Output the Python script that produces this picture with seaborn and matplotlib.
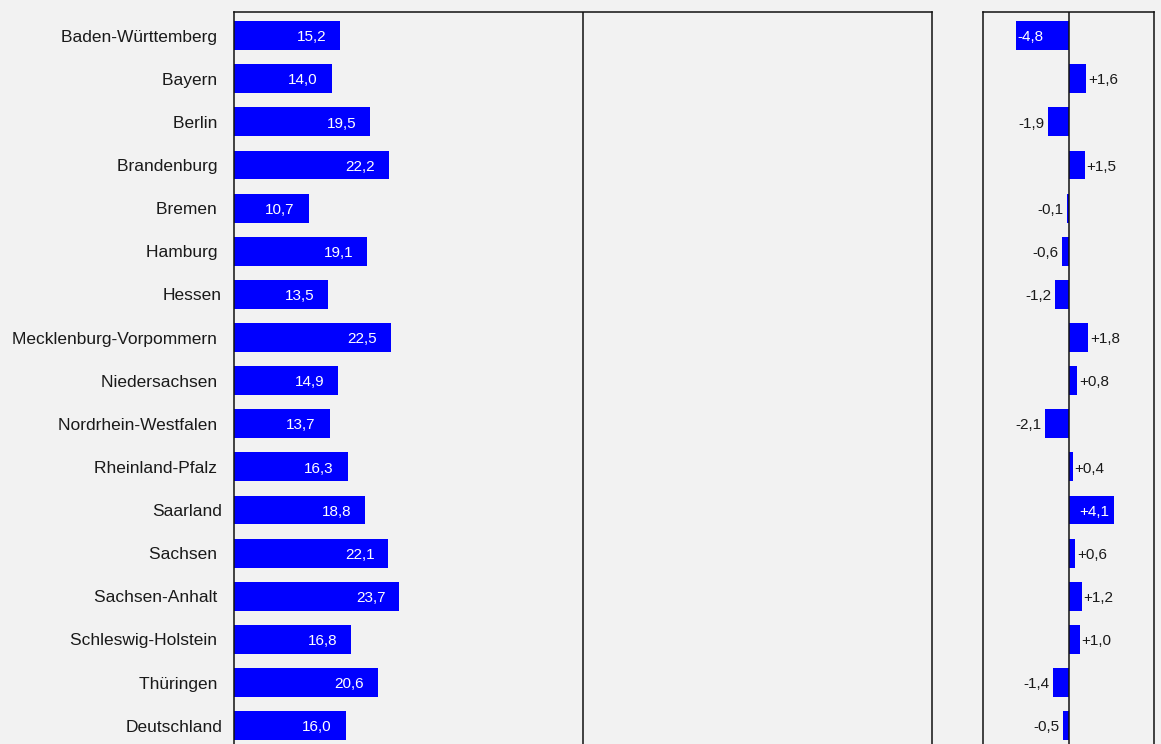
import numpy
import pandas
import seaborn
import matplotlib

matplotlib.use("Agg")
import matplotlib.pyplot

from matplotlib.axes import Axes


# data
states = [
    "Baden-Württemberg ",
    "Bayern ",
    "Berlin ",
    "Brandenburg ",
    "Bremen ",
    "Hamburg ",
    "Hessen",
    "Mecklenburg-Vorpommern ",
    "Niedersachsen ",
    "Nordrhein-Westfalen ",
    "Rheinland-Pfalz ",
    "Saarland",
    "Sachsen ",
    "Sachsen-Anhalt ",
    "Schleswig-Holstein ",
    "Thüringen ",
    "Deutschland",
]
values = [15.2, 14.0, 19.5, 22.2, 10.7, 19.1, 13.5, 22.5, 14.9, 13.7, 16.3, 18.8, 22.1, 23.7, 16.8, 20.6, 16.0]
changes = [-4.8, 1.6, -1.9, 1.5, -0.1, -0.6, -1.2, 1.8, 0.8, -2.1, 0.4, 4.1, 0.6, 1.2, 1.0, -1.4, -0.5]

BLUE = "#0000ff"
BG = "#f2f2f2"
TEXT = "#1a1a1a"
FONT = ["Liberation Sans", "DejaVu Sans"]


def fmt(v: float, sign: bool = False) -> str:
    s = f"{v:+.1f}" if sign else f"{v:.1f}"
    return s.replace(".", ",")


def frame(ax: Axes) -> None:
    for spine in ax.spines.values():
        spine.set_visible(True)
        spine.set_color("#111111")
        spine.set_linewidth(1.1)
    ax.set_facecolor(BG)
    ax.set_xticks([])
    ax.set_xlabel("")
    ax.set_ylabel("")
    ax.set_ylim(len(states) - 0.5, -0.54)


df = pandas.DataFrame({"state": states, "value": values, "change": changes})

fig = matplotlib.pyplot.figure(figsize=(11.61, 7.44), dpi=100, facecolor=BG)
ax_left = fig.add_axes([0.2016, -0.0044, 0.6012, 0.9879])
ax_right = fig.add_axes([0.8467, -0.0044, 0.1473, 0.9879])

# left panel: levels
seaborn.barplot(df, x="value", y="state", orient="y", color=BLUE, width=0.67,
                saturation=1, ax=ax_left)
frame(ax_left)
ax_left.set_xlim(0, 100)
ax_left.axvline(50, color="#111111", linewidth=1.1, zorder=0)
ax_left.tick_params(axis="y", length=0, pad=8.6, labelsize=12.5, labelcolor=TEXT)
for lab in ax_left.get_yticklabels():
    lab.set_family(FONT)
for i, v in enumerate(values):
    ax_left.annotate(fmt(v), (v, i), xytext=(-10, -1.2), textcoords="offset points",
                     ha="right", va="center", color="white", fontsize=11, family=FONT)

# right panel: changes
seaborn.barplot(df, x="change", y="state", orient="y", color=BLUE, width=0.67,
                saturation=1, ax=ax_right)
frame(ax_right)
ax_right.set_xlim(-7.75, 7.75)
ax_right.set_yticks([])
ax_right.axvline(0, color="#111111", linewidth=1.1, zorder=3)
for i, c in enumerate(changes):
    inside = abs(c) >= 3
    if c < 0:
        dx, ha = (1.0, "left") if inside else (-2.5, "right")
    else:
        dx, ha = (-3, "right") if inside else (1.2, "left")
    ax_right.annotate(fmt(c, sign=c > 0), (c, i), xytext=(dx, -1.2),
                      textcoords="offset points", ha=ha, va="center",
                      color="white" if inside else TEXT, fontsize=11, family=FONT)

fig.savefig("out.png", dpi=100, facecolor=BG)
